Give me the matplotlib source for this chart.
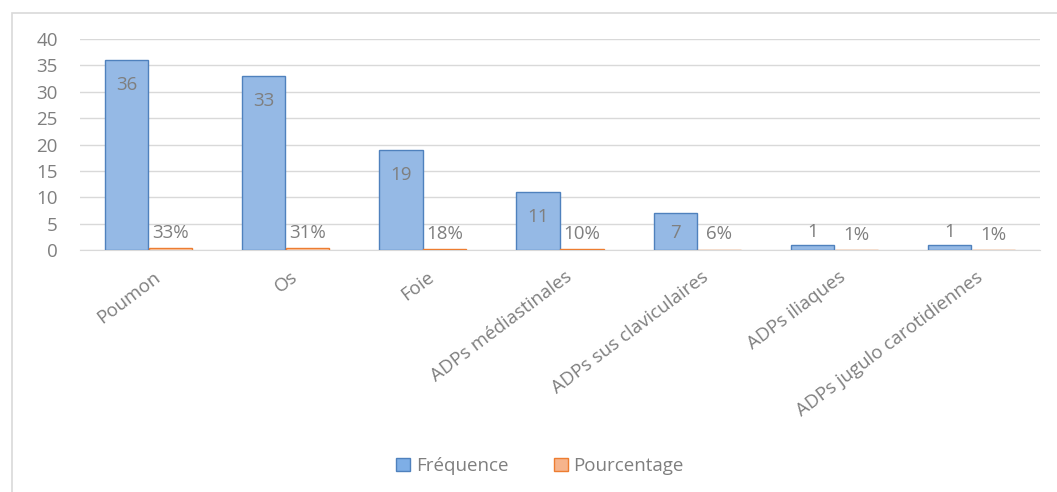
import numpy as np
import matplotlib.pyplot as plt
from matplotlib.patches import Rectangle

# Données : sites métastatiques
sites = ["Poumon", "Os", "Foie", "ADPs médiastinales", "ADPs sus claviculaires",
         "ADPs iliaques", "ADPs jugulo carotidiennes"]
frequence = [36, 33, 19, 11, 7, 1, 1]
pourcentage = [0.33, 0.31, 0.18, 0.10, 0.06, 0.01, 0.01]

GRIS = "#7f7f7f"
FS = 13.5
plt.rcParams["font.family"] = ["Open Sans", "DejaVu Sans"]

fig = plt.figure(figsize=(10.57, 4.92), dpi=100)
# cadre du graphique (seuls les bords gauche et haut sont visibles)
fig.patches.append(Rectangle((12 / 1057, -0.2), 1.2, 1.2 - 13 / 492, transform=fig.transFigure,
                             fill=False, edgecolor="#d9d9d9", linewidth=1.2))

ax = fig.add_axes([80 / 1057, (492 - 250) / 492, 960 / 1057, 211 / 492])
x = np.arange(len(sites))
w = 0.315
ax.bar(x - 0.16, frequence, w, color="#95b9e5", edgecolor="#4f81bd", linewidth=1, zorder=3,
       label="Fréquence")
ax.bar(x + 0.16, pourcentage, w, color="#fbe0cf", edgecolor="#ed7d31", linewidth=1, zorder=3,
       label="Pourcentage")

# étiquettes de valeurs
for xi, v in zip(x, frequence):
    dy = (-18 if v >= 10 else -14) if v >= 5 else 9
    ax.annotate(str(v), (xi - 0.16, v), xytext=(0, dy), textcoords="offset points",
                ha="center", va="center", fontsize=FS, color=GRIS)
for xi, v in zip(x, pourcentage):
    ax.annotate(f"{v:.0%}", (xi + 0.16, v), xytext=(0, 11), textcoords="offset points",
                ha="center", va="center", fontsize=FS, color=GRIS)

ax.set_xlim(-0.5, len(sites) - 0.5)
ax.set_ylim(0, 40)
ax.set_yticks(range(0, 41, 5))
ax.yaxis.grid(True, color="#d9d9d9", linewidth=1, zorder=0)
for s in ["top", "right", "left"]:
    ax.spines[s].set_visible(False)
ax.spines["bottom"].set_color("#d9d9d9")
ax.tick_params(axis="y", length=0, labelsize=FS, labelcolor=GRIS, pad=16)
ax.tick_params(axis="x", length=0, pad=13)
ax.set_xticks(x + 0.03)
ax.set_xticklabels(sites, rotation=37, ha="right", va="top", rotation_mode="anchor",
                   fontsize=FS, color=GRIS)

leg = ax.legend(loc="center", bbox_to_anchor=(540 / 1057, (492 - 466) / 492),
                bbox_transform=fig.transFigure, ncol=2, frameon=False, fontsize=FS,
                labelcolor=GRIS, handlelength=0.75, handleheight=0.75,
                handletextpad=0.3, columnspacing=2.4)
leg.legend_handles[1].set_facecolor("#f6b48c")
leg.legend_handles[0].set_facecolor("#7eaee6")

fig.savefig("out.png", dpi=100)
